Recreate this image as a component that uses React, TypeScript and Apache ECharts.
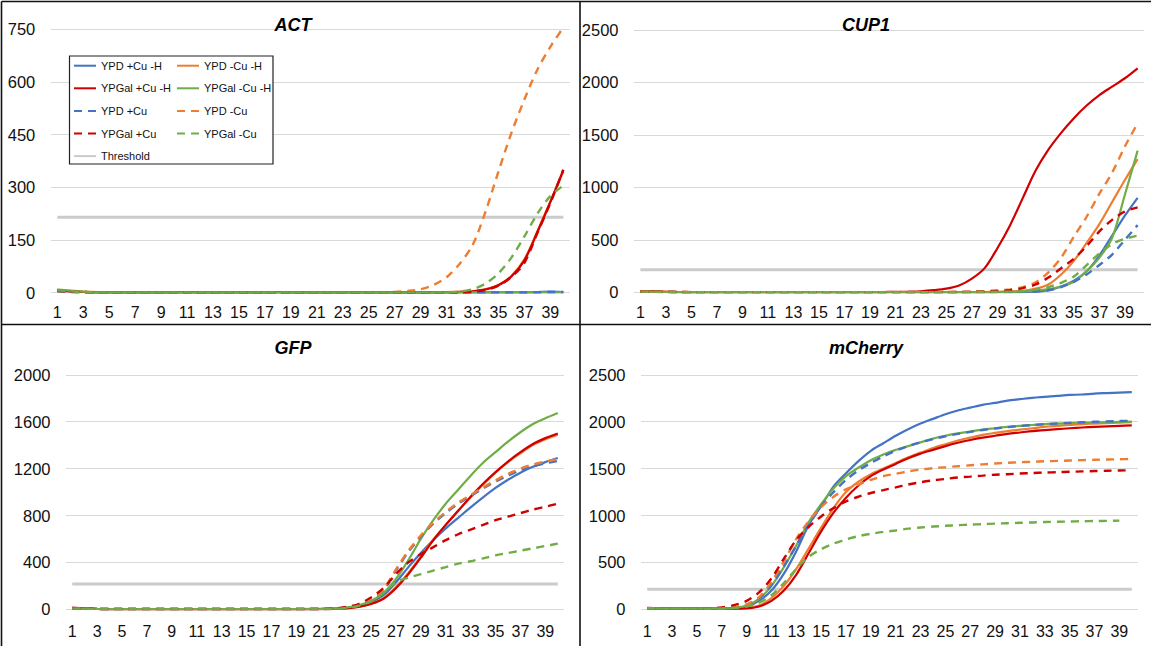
import React, { useEffect, useRef } from "react";
import * as echarts from "echarts";

// ---------- data ----------
const CYCLES = [
  "1", "2", "3", "4", "5", "6", "7", "8", "9", "10",
  "11", "12", "13", "14", "15", "16", "17", "18", "19", "20",
  "21", "22", "23", "24", "25", "26", "27", "28", "29", "30",
  "31", "32", "33", "34", "35", "36", "37", "38", "39", "40",
];

const THRESHOLD = 215;

const SERIES_NAMES = [
  "YPD +Cu -H", "YPD -Cu -H", "YPGal +Cu -H", "YPGal -Cu -H",
  "YPD +Cu", "YPD -Cu", "YPGal +Cu", "YPGal -Cu",
];

// ACT
const ACT_YPD_CU_H = [6,4,2,1,1,1,1,1,1,1, 1,1,1,1,1,1,1,1,1,1, 1,1,1,1,1,1,1,1,1,1, 1,1,1,1,1,1,1,2,3,2];
const ACT_YPD_NOCU_H = [8,5,3,2,1,1,1,1,1,1, 1,1,1,1,2,1,1,1,1,1, 1,1,1,1,1,1,1,1,1,1, 2,3,4,10,22,48,95,175,260,345];
const ACT_YPGAL_CU_H = [7,4,2,1,1,1,1,1,1,1, 2,1,1,1,1,1,1,2,1,1, 1,1,1,1,1,1,1,1,1,1, 1,2,4,9,21,46,92,172,258,350];
const ACT_YPGAL_NOCU_H = [9,6,3,1,1,1,1,1,1,1, 1,1,1,1,1,1,1,1,1,1, 1,1,1,1,1,1,1,1,1,1, 1,1,1,1,1,1,1,1,1,1];
const ACT_YPD_CU = [3,2,1,1,1,1,1,1,1,1, 1,1,1,1,1,1,1,1,1,1, 1,1,1,1,1,1,1,1,1,1, 1,1,1,1,1,1,1,1,2,2];
const ACT_YPD_NOCU = [5,3,2,1,1,1,1,1,1,1, 1,1,1,1,1,1,1,1,1,1, 1,1,1,1,1,1,2,5,10,22, 44,82,135,230,345,455,550,635,700,755];
const ACT_YPGAL_CU = [6,3,2,1,1,1,1,1,1,1, 1,1,1,1,1,1,1,1,1,1, 1,1,1,1,1,1,1,1,1,1, 1,1,3,8,20,45,85,170,255,350];
const ACT_YPGAL_NOCU = [7,4,2,1,1,1,1,1,1,1, 1,1,1,1,1,1,1,1,1,1, 1,1,1,1,1,1,1,1,1,1, 1,3,10,26,55,100,160,225,275,305];

// CUP1
const CUP1_YPD_CU_H = [5,4,3,2,2,2,2,2,2,2, 2,2,2,2,2,2,2,2,2,2, 2,2,2,2,2,2,2,2,2,2, 3,5,20,55,110,200,350,540,730,900];
const CUP1_YPD_NOCU_H = [8,6,4,3,2,2,2,2,2,2, 2,2,2,2,2,2,2,2,2,2, 2,2,2,2,2,2,2,3,5,8, 15,35,75,170,300,470,650,860,1070,1270];
const CUP1_YPGAL_CU_H = [10,8,5,3,2,2,2,2,2,2, 2,2,2,2,2,2,2,2,2,3, 4,6,10,20,35,65,130,230,420,640, 900,1160,1360,1520,1660,1780,1880,1960,2040,2135];
const CUP1_YPGAL_NOCU_H = [6,5,3,2,2,2,2,2,2,2, 2,2,2,2,2,2,2,2,2,2, 2,2,2,2,2,2,2,2,3,5, 8,15,30,55,100,200,330,520,930,1350];
const CUP1_YPD_CU = [5,4,3,2,2,2,2,2,2,2, 2,2,2,2,2,2,2,2,2,2, 2,2,2,2,2,2,2,2,2,2, 3,8,20,50,100,170,260,360,500,640];
const CUP1_YPD_NOCU = [9,7,4,3,2,2,2,2,2,2, 2,2,2,2,2,2,2,2,2,2, 2,2,2,2,3,4,6,10,19,28, 50,95,190,330,530,720,940,1140,1390,1610];
const CUP1_YPGAL_CU = [8,6,4,3,2,2,2,2,2,2, 2,2,2,2,2,2,2,2,2,2, 2,2,2,2,2,3,4,6,10,20, 40,75,140,230,320,440,580,690,770,810];
const CUP1_YPGAL_NOCU = [6,5,3,2,2,2,2,2,2,2, 2,2,2,2,2,2,2,2,2,2, 2,2,2,2,2,2,2,3,4,6, 10,25,50,90,150,260,370,460,510,540];

// GFP
const GFP_YPD_CU_H = [8,5,3,2,2,2,2,2,2,2, 2,2,2,2,2,2,2,2,2,2, 3,5,12,28,60,120,230,360,480,590, 690,780,870,955,1035,1105,1165,1215,1255,1290];
const GFP_YPD_NOCU_H = [9,6,3,2,2,2,2,2,2,2, 2,2,2,2,2,2,2,2,2,2, 3,5,10,22,48,95,190,310,450,595, 720,840,955,1065,1165,1255,1330,1400,1450,1490];
const GFP_YPGAL_CU_H = [14,8,4,2,2,2,2,2,2,2, 2,2,2,2,2,2,2,2,2,2, 2,4,8,20,45,90,180,300,440,590, 720,840,960,1070,1170,1260,1340,1410,1460,1500];
const GFP_YPGAL_NOCU_H = [8,5,3,2,2,2,2,2,2,2, 2,2,2,2,2,2,2,2,2,3, 4,5,15,35,70,140,260,420,600,760, 900,1020,1140,1250,1340,1430,1510,1580,1630,1675];
const GFP_YPD_CU = [7,5,3,2,2,2,2,2,2,2, 2,2,2,2,2,2,2,2,2,2, 3,6,14,32,70,160,330,490,620,730, 820,900,965,1030,1090,1140,1185,1220,1245,1265];
const GFP_YPD_NOCU = [7,5,3,2,2,2,2,2,2,2, 2,2,2,2,2,2,2,2,2,2, 3,6,15,35,75,170,340,500,630,740, 830,910,975,1040,1100,1155,1200,1235,1260,1280];
const GFP_YPGAL_CU = [10,6,3,2,2,2,2,2,2,2, 2,2,2,2,2,2,2,2,2,3, 3,5,20,45,100,180,300,400,470,530, 590,640,680,720,760,790,820,850,875,900];
const GFP_YPGAL_NOCU = [8,5,3,2,2,2,2,2,2,2, 2,2,2,2,2,2,2,2,2,2, 2,3,12,30,70,140,230,270,300,330, 360,390,410,435,460,480,500,520,540,560];

// mCherry
const MCH_YPD_CU_H = [12,10,8,8,8,8,9,12,30,90, 200,380,620,900,1100,1310,1450,1580,1690,1770, 1850,1920,1980,2030,2080,2120,2150,2180,2200,2225, 2240,2255,2265,2275,2285,2290,2300,2305,2310,2315];
const MCH_YPD_NOCU_H = [10,9,8,7,7,7,8,10,18,40, 120,250,430,650,870,1080,1250,1360,1440,1500, 1560,1620,1670,1720,1760,1800,1830,1860,1880,1900, 1915,1930,1945,1955,1965,1975,1980,1985,1990,1995];
const MCH_YPGAL_CU_H = [10,9,8,7,7,7,7,8,10,30, 90,200,370,600,830,1030,1190,1320,1420,1490, 1550,1610,1660,1700,1740,1775,1805,1830,1850,1870, 1885,1900,1910,1920,1930,1938,1945,1950,1955,1960];
const MCH_YPGAL_NOCU_H = [12,10,8,8,8,8,9,14,40,110, 250,450,680,930,1120,1290,1420,1510,1590,1650, 1700,1740,1780,1820,1850,1875,1895,1915,1930,1945, 1955,1965,1975,1980,1985,1990,1992,1995,1998,2000];
const MCH_YPD_CU = [12,10,8,8,8,9,11,20,50,120, 260,460,680,900,1100,1250,1380,1480,1560,1630, 1690,1740,1780,1815,1845,1870,1892,1912,1928,1942, 1954,1964,1973,1981,1988,1994,1999,2003,2007,2010];
const MCH_YPD_NOCU = [10,9,8,8,8,9,12,20,50,130, 290,510,750,940,1090,1200,1280,1330,1380,1420, 1445,1470,1490,1505,1515,1525,1535,1545,1555,1562, 1568,1573,1578,1582,1586,1590,1594,1597,1600,1603];
const MCH_YPGAL_CU = [14,12,10,10,10,12,20,45,90,180, 330,540,740,880,990,1080,1150,1200,1240,1270, 1300,1330,1355,1375,1390,1405,1415,1425,1435,1440, 1447,1453,1458,1462,1466,1470,1474,1477,1480,1483];
const MCH_YPGAL_NOCU = [12,10,8,8,8,8,10,15,30,70, 150,280,430,560,640,700,745,780,805,825, 840,860,872,882,890,897,903,908,913,918, 922,926,930,933,936,939,941,943,945,null];

const PANEL_TITLES = ["ACT", "CUP1", "GFP", "mCherry"];
const PANEL_MAX = [750, 2500, 2000, 2500];
const PANEL_STEP = [150, 500, 400, 500];
const PANEL_DATA = [
  [ACT_YPD_CU_H, ACT_YPD_NOCU_H, ACT_YPGAL_CU_H, ACT_YPGAL_NOCU_H, ACT_YPD_CU, ACT_YPD_NOCU, ACT_YPGAL_CU, ACT_YPGAL_NOCU],
  [CUP1_YPD_CU_H, CUP1_YPD_NOCU_H, CUP1_YPGAL_CU_H, CUP1_YPGAL_NOCU_H, CUP1_YPD_CU, CUP1_YPD_NOCU, CUP1_YPGAL_CU, CUP1_YPGAL_NOCU],
  [GFP_YPD_CU_H, GFP_YPD_NOCU_H, GFP_YPGAL_CU_H, GFP_YPGAL_NOCU_H, GFP_YPD_CU, GFP_YPD_NOCU, GFP_YPGAL_CU, GFP_YPGAL_NOCU],
  [MCH_YPD_CU_H, MCH_YPD_NOCU_H, MCH_YPGAL_CU_H, MCH_YPGAL_NOCU_H, MCH_YPD_CU, MCH_YPD_NOCU, MCH_YPGAL_CU, MCH_YPGAL_NOCU],
];

// ---------- styles ----------
const COLORS = ["#4472C4", "#ED7D31", "#D00000", "#70AD47", "#4472C4", "#ED7D31", "#D00000", "#70AD47"];
const DASHED = [false, false, false, false, true, true, true, true];
const FONT = "'Liberation Sans', Arial, Helvetica, sans-serif";

const GRIDS = [
  { left: 50.8, top: 29.3, width: 519, height: 263.4 },
  { left: 634, top: 30, width: 510, height: 262.3 },
  { left: 66, top: 374.8, width: 498, height: 234.5 },
  { left: 641, top: 374.8, width: 497, height: 234.5 },
];
const TITLE_POS = [
  { x: 293, y: 15.5 },
  { x: 866, y: 15.5 },
  { x: 293, y: 339 },
  { x: 866, y: 339 },
];

function buildOption() {
  const series: any[] = [];
  PANEL_DATA.forEach((panel, p) => {
    series.push({
      type: "line",
      name: "Threshold",
      xAxisIndex: p,
      yAxisIndex: p,
      data: CYCLES.map(() => THRESHOLD),
      symbol: "none",
      z: 1,
      lineStyle: { color: "#CBCBCB", width: 3 },
      itemStyle: { color: "#CBCBCB" },
      silent: true,
    });
    panel.forEach((arr, s) => {
      series.push({
        type: "line",
        name: SERIES_NAMES[s],
        xAxisIndex: p,
        yAxisIndex: p,
        data: arr,
        symbol: "none",
        smooth: 0.3,
        z: 2 + s * 0.01,
        lineStyle: {
          color: COLORS[s],
          width: DASHED[s] ? 2.4 : 2.2,
          type: DASHED[s] ? [8, 6] : "solid",
        },
        itemStyle: { color: COLORS[s] },
      });
    });
  });

  const legendCommon = {
    orient: "vertical",
    padding: 0,
    itemWidth: 22,
    itemHeight: 12,
    itemGap: 10.6,
    selectedMode: false,
    itemStyle: { opacity: 0, color: "transparent", borderWidth: 0 },
    textStyle: { fontSize: 11, color: "#111", fontFamily: FONT, lineHeight: 12 },
  };

  const lineEl = (x1: number, y1: number, x2: number, y2: number) => ({
    type: "line",
    shape: { x1, y1, x2, y2 },
    style: { stroke: "#111", lineWidth: 1.6 },
    z: 10,
    silent: true,
  });

  return {
    animation: false,
    backgroundColor: "#ffffff",
    title: PANEL_TITLES.map((t, i) => ({
      text: t,
      left: TITLE_POS[i].x,
      top: TITLE_POS[i].y,
      textAlign: "center",
      padding: 0,
      textStyle: {
        fontSize: 18,
        fontWeight: "bold",
        fontStyle: "italic",
        color: "#000",
        fontFamily: FONT,
      },
    })),
    legend: [
      {
        ...legendCommon,
        left: 73,
        top: 59.7,
        data: ["YPD +Cu -H", "YPGal +Cu -H", "YPD +Cu", "YPGal +Cu", "Threshold"],
      },
      {
        ...legendCommon,
        left: 176,
        top: 59.7,
        data: ["YPD -Cu -H", "YPGal -Cu -H", "YPD -Cu", "YPGal -Cu"],
      },
    ],
    grid: GRIDS.map((g) => ({ ...g, containLabel: false })),
    xAxis: GRIDS.map((_, i) => ({
      type: "category",
      gridIndex: i,
      data: CYCLES,
      boundaryGap: true,
      axisLine: { show: false },
      axisTick: { show: false },
      splitLine: { show: false },
      axisLabel: {
        interval: 1,
        margin: i < 2 ? 12 : 14,
        fontSize: 16,
        color: "#111",
        fontFamily: FONT,
      },
    })),
    yAxis: GRIDS.map((_, i) => ({
      type: "value",
      gridIndex: i,
      min: 0,
      max: PANEL_MAX[i],
      interval: PANEL_STEP[i],
      axisLine: { show: false },
      axisTick: { show: false },
      splitLine: { show: true, lineStyle: { color: "#D9D9D9", width: 1.2 } },
      axisLabel: {
        margin: 15.5,
        fontSize: 16.5,
        color: "#111",
        fontFamily: FONT,
        formatter: (v: number) => String(v),
      },
    })),
    graphic: [
      {
        type: "rect",
        shape: { x: 69.5, y: 56, width: 203.5, height: 108 },
        style: { fill: "#ffffff", stroke: "#222", lineWidth: 1.2 },
        z: 3,
        silent: true,
      },
      lineEl(1.5, 1.5, 1151, 1.5),
      lineEl(1.5, 1.5, 1.5, 646),
      lineEl(580, 1.5, 580, 646),
      lineEl(1.5, 324.5, 1151, 324.5),
    ],
    series,
  };
}

export default function App() {
  const ref = useRef<HTMLDivElement>(null);
  useEffect(() => {
    if (!ref.current) return;
    const chart = echarts.init(ref.current, undefined, { renderer: "svg" });
    chart.setOption(buildOption() as any);
    return () => chart.dispose();
  }, []);
  return (
    <div
      ref={ref}
      style={{ position: "fixed", left: 0, top: 0, width: 1151, height: 646, background: "#fff" }}
    />
  );
}
